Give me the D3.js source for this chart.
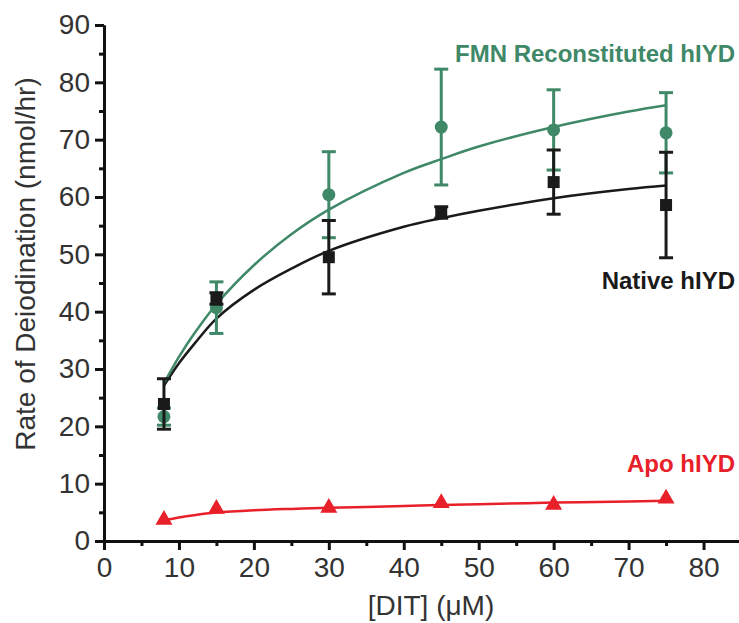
<!DOCTYPE html>
<html>
<head>
<meta charset="utf-8">
<script src="https://cdn.jsdelivr.net/npm/d3@7"></script>
<style>
  body { margin: 0; background: #fff; }
  svg { display: block; }
  .domain, .tick line { stroke: #111; stroke-width: 3px; }
</style>
</head>
<body>
<svg id="chart" width="739" height="623"></svg>
<script>
// substrate concentrations of the measured points
const ditConc = [8, 15, 30, 45, 60, 75];
// measured rates with their error bars
const fmnRate = [21.7, 40.7, 60.4, 72.2, 71.7, 71.2];
const fmnErr = [1.5, 4.5, 7.5, 10.1, 7.0, 7.0];
const nativeRate = [23.9, 42.3, 49.5, 57.3, 62.6, 58.6];
const nativeErr = [4.4, 1.0, 6.4, 1.0, 5.6, 9.2];
const apoRate = [3.7, 5.6, 5.8, 6.6, 6.3, 7.4];
// fitted curves
const fitConc = [8, 10, 12, 15, 20, 25, 30, 40, 45, 50, 60, 70, 75];
const fmnFit = [27.5, 32.1, 36.1, 41.3, 48.1, 53.5, 57.8, 64.2, 66.6, 68.8, 72.2, 74.9, 76.0];
const nativeFit = [27.1, 31.0, 34.3, 38.8, 43.8, 47.5, 50.6, 54.8, 56.3, 57.6, 59.8, 61.4, 62.0];
const apoFit = [3.6, 4.1, 4.5, 4.95, 5.35, 5.6, 5.8, 6.1, 6.3, 6.4, 6.7, 6.9, 7.0];
// axis ticks
const xTicks = [0, 10, 20, 30, 40, 50, 60, 70, 80];
const xMinor = [5, 15, 25, 35, 45, 55, 65, 75];
const yTicks = [0, 10, 20, 30, 40, 50, 60, 70, 80, 90];
const yMinor = [5, 15, 25, 35, 45, 55, 65, 75, 85];

const green = '#3f8868';
const black = '#1a1a1a';
const red = '#e8202a';
const font = '"Liberation Sans", Arial, sans-serif';

const svg = d3.select('#chart');
const margin = {top: 25, right: 0, left: 104, bottom: 82};
const width = +svg.attr('width');
const height = +svg.attr('height');
const innerWidth = width - margin.left - margin.right + 2;
const innerHeight = height - margin.top - margin.bottom;

const g = svg.append('g')
    .attr('transform', `translate(${margin.left}, ${margin.top})`);

const xScale = d3.scaleLinear().domain([0, 85]).range([0, innerWidth]);
const yScale = d3.scaleLinear().domain([0, 90]).range([innerHeight, 0]);

// axes: minor ticks first (no labels), then major
g.append('g')
    .attr('transform', `translate(0, ${innerHeight})`)
    .call(d3.axisBottom(xScale).tickValues(xMinor).tickSize(5).tickSizeOuter(0))
    .call(a => a.selectAll('text').remove());
g.append('g')
    .call(d3.axisLeft(yScale).tickValues(yMinor).tickSize(5).tickSizeOuter(0))
    .call(a => a.selectAll('text').remove());

const xAxisG = g.append('g')
    .attr('transform', `translate(0, ${innerHeight})`)
    .attr('font-family', font).attr('font-size', 28)
    .call(d3.axisBottom(xScale).tickValues(xTicks).tickSize(9).tickSizeOuter(0).tickPadding(7));
xAxisG.attr('font-family', font).attr('font-size', 28);
xAxisG.selectAll('text').attr('fill', '#333');

const yAxisG = g.append('g')
    .call(d3.axisLeft(yScale).tickValues(yTicks).tickSize(9).tickSizeOuter(0).tickPadding(5));
yAxisG.attr('font-family', font).attr('font-size', 28);
yAxisG.selectAll('text').attr('fill', '#333');

// axis labels
svg.append('text')
    .attr('x', 431).attr('y', 615)
    .attr('text-anchor', 'middle')
    .attr('font-family', font)
    .attr('fill', '#333').attr('font-size', 28)
    .text('[DIT] (\u03bcM)');
svg.append('text')
    .attr('transform', 'translate(35, 264) rotate(-90)')
    .attr('text-anchor', 'middle')
    .attr('font-family', font)
    .attr('fill', '#333').attr('font-size', 28)
    .text('Rate of Deiodination (nmol/hr)');

const line = d3.line()
    .x((d, i) => xScale(fitConc[i]))
    .y(d => yScale(d))
    .curve(d3.curveCatmullRom);

const fits = [
    {vals: apoFit, color: red},
    {vals: nativeFit, color: black},
    {vals: fmnFit, color: green}
];
g.selectAll('.fit').data(fits)
    .enter().append('path')
        .attr('class', 'fit')
        .attr('d', d => line(d.vals))
        .attr('fill', 'none')
        .attr('stroke', d => d.color)
        .attr('stroke-width', 2.5);

function errorBars(rates, errs, color) {
    const bars = g.append('g').attr('stroke', color).attr('stroke-width', 3);
    ditConc.forEach((c, i) => {
        const cx = xScale(c);
        const top = yScale(rates[i] + errs[i]);
        const bot = yScale(rates[i] - errs[i]);
        bars.append('line').attr('x1', cx).attr('x2', cx).attr('y1', top).attr('y2', bot);
        bars.append('line').attr('x1', cx - 7).attr('x2', cx + 7).attr('y1', top).attr('y2', top);
        bars.append('line').attr('x1', cx - 7).attr('x2', cx + 7).attr('y1', bot).attr('y2', bot);
    });
}

// FMN reconstituted
errorBars(fmnRate, fmnErr, green);
g.selectAll('.fmn').data(fmnRate)
    .enter().append('circle')
        .attr('class', 'fmn')
        .attr('cx', (d, i) => xScale(ditConc[i]))
        .attr('cy', d => yScale(d))
        .attr('r', 6.5)
        .attr('fill', green);

// native
errorBars(nativeRate, nativeErr, black);
g.selectAll('.native').data(nativeRate)
    .enter().append('rect')
        .attr('class', 'native')
        .attr('x', (d, i) => xScale(ditConc[i]) - 6)
        .attr('y', d => yScale(d) - 6)
        .attr('width', 12)
        .attr('height', 12)
        .attr('fill', black);

// apo
const tri = d3.symbol().type(d3.symbolTriangle).size(125);
g.selectAll('.apo').data(apoRate)
    .enter().append('path')
        .attr('class', 'apo')
        .attr('transform', (d, i) => `translate(${xScale(ditConc[i])}, ${yScale(d)})`)
        .attr('d', tri)
        .attr('fill', red);

// series labels
const labels = [
    {text: 'FMN Reconstituted hIYD', y: 62, color: green},
    {text: 'Native hIYD', y: 289, color: black},
    {text: 'Apo hIYD', y: 472, color: red}
];
svg.selectAll('.serieslabel').data(labels)
    .enter().append('text')
        .attr('class', 'serieslabel')
        .attr('x', 735)
        .attr('y', d => d.y)
        .attr('text-anchor', 'end')
        .attr('font-family', font)
        .attr('font-size', 24)
        .attr('font-weight', 'bold')
        .attr('fill', d => d.color)
        .text(d => d.text);
</script>
</body>
</html>
